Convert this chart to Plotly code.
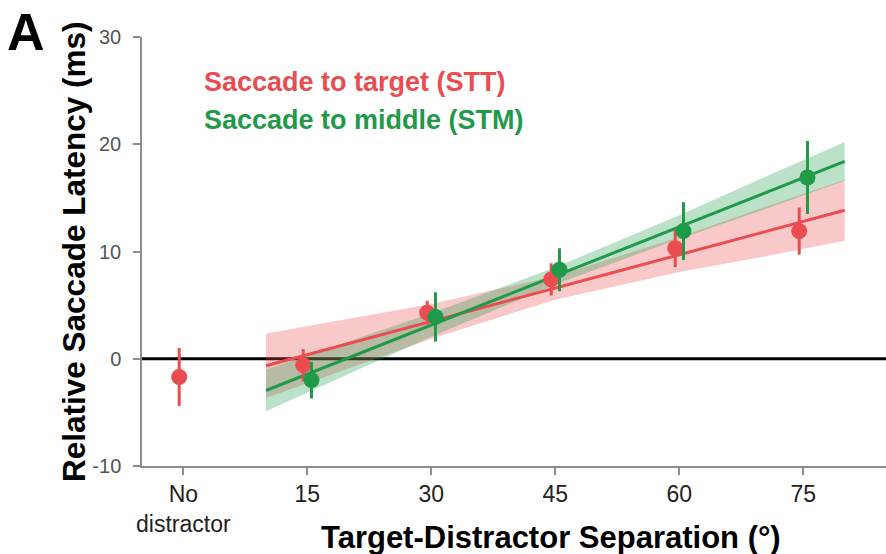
import plotly.graph_objects as go

# Mean relative saccade latency (ms) by target-distractor separation (deg)
stt_sep = [0, 15, 30, 45, 60, 75]
stt_mean = [-1.7, -0.6, 4.3, 7.4, 10.3, 11.9]
stt_err = [2.7, 1.5, 1.1, 1.5, 1.75, 2.2]

stm_sep = [15, 30, 45, 60, 75]
stm_mean = [-2.0, 3.9, 8.3, 11.9, 16.9]
stm_err = [1.7, 2.3, 2.0, 2.7, 3.4]

# Linear fits with confidence bands
fit_x = [10, 20, 30, 45, 60, 70, 80]
stt_fit = [-0.65, 1.42, 3.49, 6.6, 9.70, 11.77, 13.84]
stt_lo = [-3.65, -0.86, 1.87, 5.5, 8.08, 9.49, 11.0]
stt_hi = [2.35, 3.70, 5.11, 7.7, 11.32, 14.05, 16.7]
stm_fit = [-2.96, 0.09, 3.14, 7.72, 12.29, 15.34, 18.4]
stm_lo = [-4.9, -1.41, 2.04, 6.92, 11.19, 13.84, 16.6]
stm_hi = [-1.0, 1.59, 4.24, 8.52, 13.39, 16.84, 20.2]

x_ticks = [0, 15, 30, 45, 60, 75]
x_labels = ["No<br>distractor", "15", "30", "45", "60", "75"]
y_ticks = [-10, 0, 10, 20, 30]
y_labels = ["-10", "0", "10", "20", "30"]

RED = "rgb(234,76,80)"
GREEN = "rgb(30,154,72)"
RED_BAND = "rgba(234,76,80,0.3)"
GREEN_BAND = "rgba(30,154,72,0.3)"
OFFSET = 0.5
FONT = "Liberation Sans, Arial, sans-serif"

fig = go.Figure()


def band(lo, hi, color):
    fig.add_trace(go.Scatter(
        x=fit_x + fit_x[::-1], y=hi + lo[::-1],
        fill="toself", fillcolor=color, line=dict(width=0),
        mode="lines", hoverinfo="skip", showlegend=False))


band(stt_lo, stt_hi, RED_BAND)
band(stm_lo, stm_hi, GREEN_BAND)

# zero reference line
fig.add_shape(type="line", xref="x", yref="y", x0=-5, x1=85, y0=0, y1=0,
              line=dict(color="black", width=3), layer="below")

fig.add_trace(go.Scatter(x=fit_x, y=stt_fit, mode="lines",
                         line=dict(color=RED, width=3), showlegend=False))
fig.add_trace(go.Scatter(x=fit_x, y=stm_fit, mode="lines",
                         line=dict(color=GREEN, width=3), showlegend=False))

fig.add_trace(go.Scatter(
    x=[s - OFFSET for s in stt_sep], y=stt_mean, mode="markers",
    marker=dict(color=RED, size=16),
    error_y=dict(type="data", array=stt_err, color=RED, thickness=3, width=0),
    showlegend=False))
fig.add_trace(go.Scatter(
    x=[s + OFFSET for s in stm_sep], y=stm_mean, mode="markers",
    marker=dict(color=GREEN, size=16),
    error_y=dict(type="data", array=stm_err, color=GREEN, thickness=3, width=0),
    showlegend=False))

annotations = [
    dict(text="<b>A</b>", x=26, y=554 - 32, font=dict(size=52, color="black")),
    dict(text="<b>Saccade to target (STT)</b>", x=202, y=554 - 82,
         xanchor="left", font=dict(size=27, color=RED)),
    dict(text="<b>Saccade to middle (STM)</b>", x=202, y=554 - 120,
         xanchor="left", font=dict(size=27, color=GREEN)),
    dict(text="<b>Relative Saccade Latency (ms)</b>", x=74, y=554 - 252,
         textangle=-90, font=dict(size=31.5, color="black")),
    dict(text="<b>Target-Distractor Separation (°)</b>", x=551, y=554 - 537,
         font=dict(size=31, color="black")),
]
for a in annotations:
    a.setdefault("xanchor", "center")
    a.update(xref="paper", yref="paper", showarrow=False, yanchor="middle")
    a["x"] = (a["x"] - 142) / (886 - 142)
    a["y"] = (a["y"] - 88) / (554 - 37 - 88)

fig.update_layout(
    width=886, height=554,
    margin=dict(l=142, r=0, t=37, b=88),
    plot_bgcolor="white", paper_bgcolor="white",
    font=dict(family=FONT),
    annotations=annotations,
    xaxis=dict(range=[-5, 85], tickmode="array", tickvals=x_ticks, ticktext=x_labels,
               ticks="outside", ticklen=7, tickcolor="#8c8c8c", tickwidth=1.5,
               showline=True, linecolor="#8c8c8c", linewidth=1.5,
               showgrid=False, zeroline=False,
               tickfont=dict(size=23, color="#222")),
    yaxis=dict(range=[-10, 30], tickmode="array", tickvals=y_ticks, ticktext=y_labels,
               ticks="outside", ticklen=7, tickcolor="#8c8c8c", tickwidth=1.5,
               showline=True, linecolor="#8c8c8c", linewidth=1.5,
               showgrid=False, zeroline=False, ticklabelstandoff=8,
               tickfont=dict(size=20, color="#555")),
)

fig.write_html("out.html")
